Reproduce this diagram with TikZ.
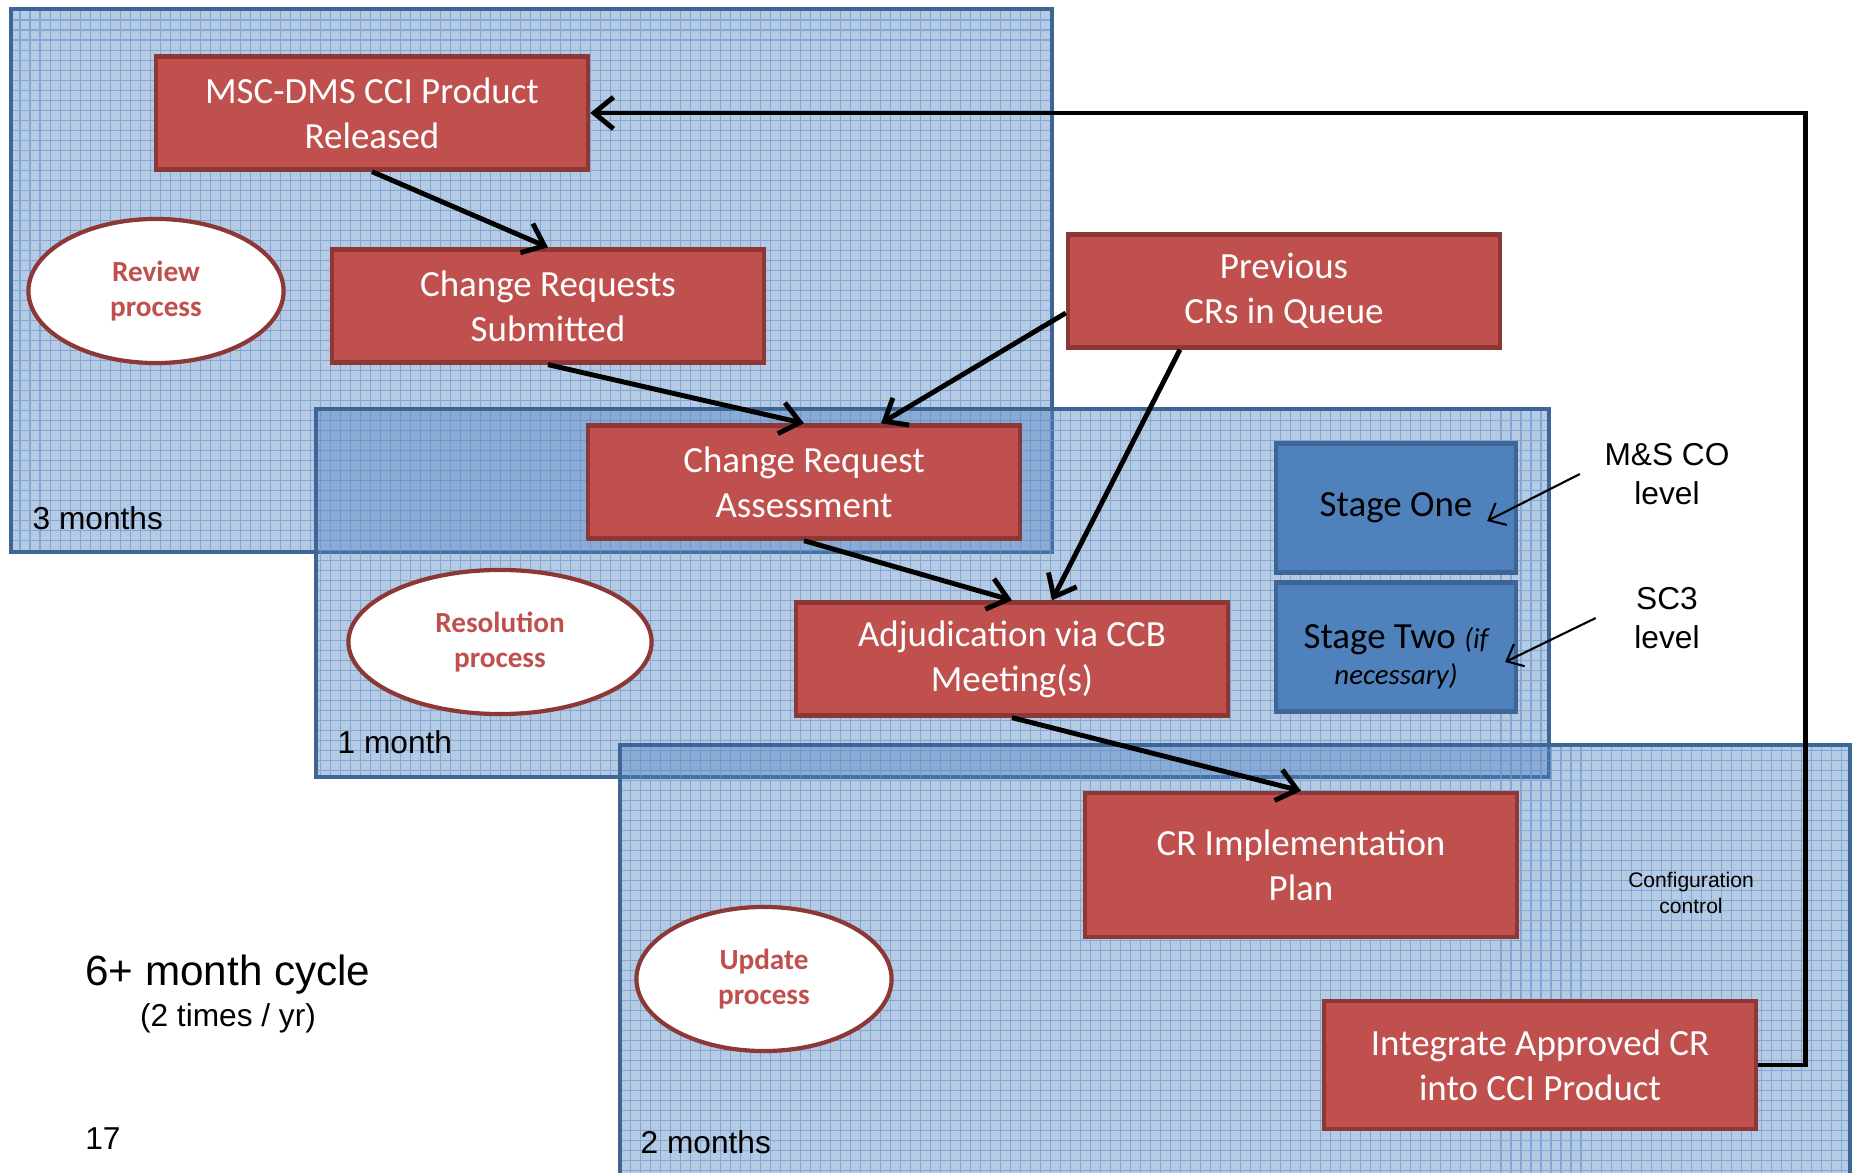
\documentclass[tikz,border=0pt]{standalone}
\usepackage{fontspec}
\setmainfont{Carlito}
\newfontfamily\lsans{Liberation Sans}
\usetikzlibrary{arrows.meta,positioning,calc,shapes.geometric}
\definecolor{cRed}{HTML}{C0504D}
\definecolor{cRedD}{HTML}{8C3836}
\definecolor{cBlue}{HTML}{4F81BD}
\definecolor{cBlueD}{HTML}{3D6596}
\definecolor{cGrid}{HTML}{6F97CF}
\tikzset{
  rbox/.style={draw=cRedD,fill=cRed,line width=1.2pt,align=center,text=white,font=\fontsize{10.5}{12.8}\selectfont,minimum width=4.32cm,minimum height=1.13cm,inner sep=2pt},
  stbox/.style={draw=cBlueD,fill=cBlue,line width=1.2pt,align=center,text=black,font=\fontsize{10.5}{12.8}\selectfont,minimum width=2.4cm,minimum height=1.29cm,inner sep=2pt},
  proc/.style={ellipse,draw=cRedD,fill=white,line width=1.2pt,align=center,text=cRed,font=\bfseries\fontsize{8.3}{10}\selectfont,minimum width=2.55cm,minimum height=1.44cm,inner sep=0pt},
  arr/.style={-{Straight Barb[length=5.5pt,width=9pt]},line width=1.4pt,black},
  tarr/.style={-{Straight Barb[length=4pt,width=7pt]},line width=0.6pt,black},
  lbl/.style={font=\lsans\fontsize{9}{11.1}\selectfont,align=center,inner sep=0pt,text=black},
  panel/.style={draw=cBlueD,line width=1.2pt},
}

\begin{document}
\begin{tikzpicture}[x=0.01cm,y=0.01cm]
  \useasboundingbox (0,0) rectangle (1854,-1173);
  \clip (0,0) rectangle (1854,-1173);
  % the three phase panels (3 months, 1 month, 2 months)
  \foreach \xa/\ya/\xb/\yb in {11/9/1052/552, 316/409/1549/777, 620/745/1850/1200}{
    \fill[cBlue,fill opacity=0.42] (\xa,-\ya) rectangle (\xb,-\yb);
    \begin{scope}
      \clip (\xa,-\ya) rectangle (\xb,-\yb);
      \draw[cGrid,line width=0.3pt,opacity=0.7,step=0.1cm] (\xa,-\yb) grid (\xb,-\ya);
    \end{scope}
    \draw[panel] (\xa,-\ya) rectangle (\xb,-\yb);
  }

  \node[rbox] (msc) at (372,-113) {MSC-DMS CCI Product\\Released};
  \node[rbox] (crs) at (548,-306) {Change Requests\\Submitted};
  \node[rbox] (prev) at (1284,-291) {Previous\\CRs in Queue};
  \node[rbox] (cra) at (804,-482) {Change Request\\Assessment};
  \node[rbox] (adj) at (1012,-659) {Adjudication via CCB\\Meeting(s)};
  \node[rbox,minimum height=1.44cm] (cri) at (1301,-865) {CR Implementation\\Plan};
  \node[rbox,minimum height=1.28cm] (integ) at (1540,-1065) {Integrate Approved CR\\into CCI Product};

  \node[stbox] (one) at (1396,-508) {Stage One};
  \node[stbox,font=\fontsize{10.5}{10.4}\selectfont] (two) at (1396,-647) {\rule{0pt}{12.5pt}Stage Two {\itshape\fontsize{8.2}{10.4}\selectfont(if}\\{\itshape\fontsize{8.2}{10.4}\selectfont necessary)}};

  \node[proc] (rev) at (156,-291) {Review\\process};
  \node[proc,minimum width=3.03cm] (res) at (500,-642) {Resolution\\process};
  \node[proc] (upd) at (764,-979) {Update\\process};

  \node[lbl,anchor=west] (m3) at (32,-518) {3 months};
  \node[lbl,anchor=west] (m1) at (337,-742) {1 month};
  \node[lbl,anchor=west] (m2) at (640,-1142) {2 months};
  \node[lbl,font=\lsans\fontsize{12}{14}\selectfont] (cyc) at (228,-975) {6+ month cycle};
  \node[lbl] (freq) at (228,-1018) {(2 times / yr)};
  \node[lbl] (pg) at (103,-1139) {17};
  \node[lbl] (msco) at (1667,-474) {M\&S CO\\level};
  \node[lbl] (sc3) at (1667,-618) {SC3\\level};
  \node[lbl,font=\lsans\fontsize{6}{7.4}\selectfont] (cfg) at (1691,-893) {Configuration\\control};

  \draw[arr] (msc.south) -- (crs.north);
  \draw[arr] (crs.south) -- (cra.north);
  \draw[arr] ([yshift=-0.22cm]prev.west) -- ([xshift=0.77cm]cra.north);
  \draw[arr] ([xshift=-1.04cm]prev.south) -- ([xshift=0.4cm]adj.north);
  \draw[arr] (cra.south) -- (adj.north);
  \draw[arr] (adj.south) -- (cri.north);
  \draw[arr] (integ.east) -- ++(47,0) |- (msc.east);
  \draw[tarr] ([xshift=-0.24cm]msco.west) -- ([xshift=-0.31cm,yshift=-0.13cm]one.east);
  \draw[tarr] ([xshift=-0.38cm]sc3.west) -- ([xshift=-0.13cm,yshift=-0.15cm]two.east);
\end{tikzpicture}
\end{document}
